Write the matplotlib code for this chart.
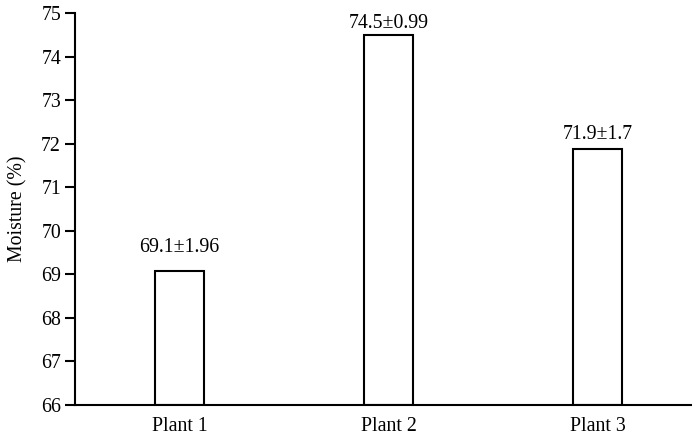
import matplotlib.pyplot as plt

plants = ["Plant 1", "Plant 2", "Plant 3"]
moisture = [69.07, 74.5, 71.87]
labels = ["69.1±1.96", "74.5±0.99", "71.9±1.7"]
# gap between bar top and label baseline (pixels at 100 dpi)
label_gap = [19, 7, 10]

plt.rcParams["font.family"] = ["Liberation Serif", "DejaVu Serif"]

fig = plt.figure(figsize=(6.92, 4.43), dpi=100)
ax = fig.add_axes([0.1084, 0.0858, 0.8916, 0.8849])

x = range(len(plants))
ax.bar(x, [m - 66 for m in moisture], bottom=66, width=0.235,
       color="white", edgecolor="black", linewidth=1.5)

for xi, m, lab, g in zip(x, moisture, labels, label_gap):
    ax.annotate(lab, (xi, m), xytext=(0, g * 0.72), textcoords="offset points",
                ha="center", va="baseline", fontsize=14.3)

ax.set_ylim(66, 75)
ax.set_xlim(-0.5, 2.45)
ax.set_yticks(range(66, 76))
ax.set_xticks(list(x))
ax.set_xticklabels(plants)
ax.tick_params(axis="x", length=0, labelsize=14.3, pad=9)
ax.tick_params(axis="y", length=7, width=1.5, labelsize=14.3, pad=3)
ax.set_ylabel("Moisture (%)", fontsize=14.3, labelpad=10)

for s in ["top", "right"]:
    ax.spines[s].set_visible(False)
for s in ["left", "bottom"]:
    ax.spines[s].set_linewidth(1.5)

fig.savefig("out.png", dpi=100)
